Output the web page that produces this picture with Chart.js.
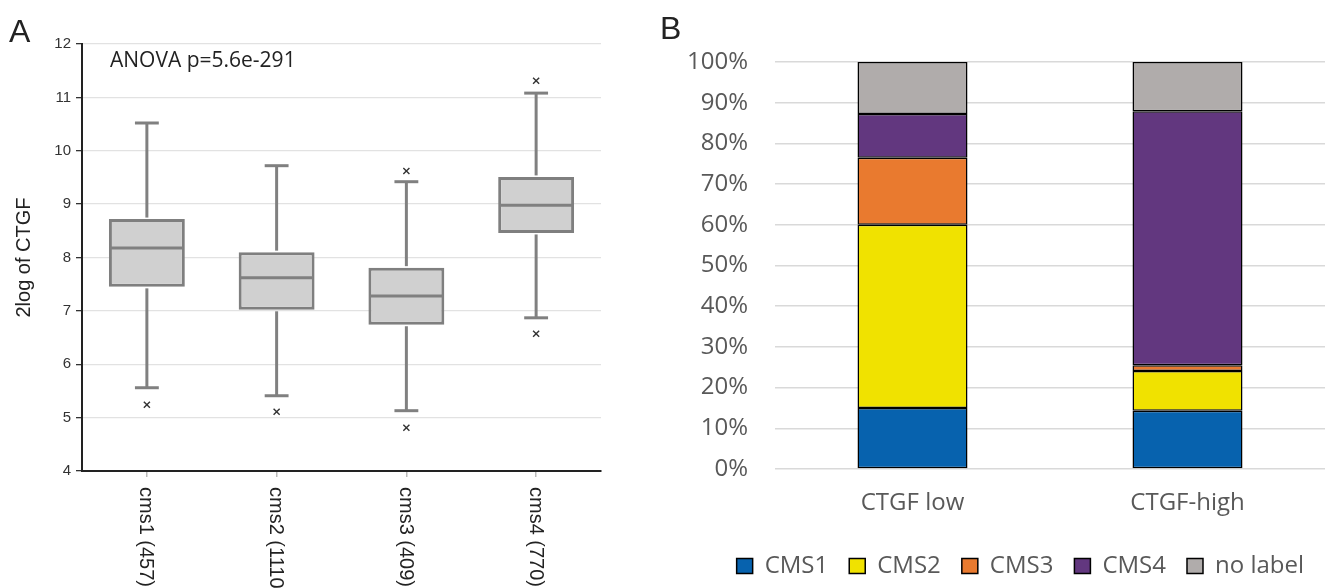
<!DOCTYPE html>
<html>
<head>
<meta charset="utf-8">
<script src="https://cdn.jsdelivr.net/npm/chart.js@4"></script>
<style>
  html, body { margin:0; padding:0; background:#fff; width:1326px; height:588px; overflow:hidden; }
  #wa { position:absolute; left:0; top:0; width:640px; height:588px; }
  #wb { position:absolute; left:640px; top:0; width:686px; height:588px; }
</style>
</head>
<body>
<div id="wa"><canvas id="ca"></canvas></div>
<div id="wb"><canvas id="cb"></canvas></div>
<script>
// ---------- Panel A data (box plot) ----------
const catsA   = ['cms1 (457)', 'cms2 (1110)', 'cms3 (409)', 'cms4 (770)'];
const whiskLo = [5.56, 5.41, 5.13, 6.87];
const q1      = [7.45, 7.02, 6.74, 8.46];
const median  = [8.18, 7.62, 7.28, 8.98];
const q3      = [8.72, 8.10, 7.81, 9.51];
const whiskHi = [10.52, 9.72, 9.42, 11.08];
const outliers = [
  {x: 'cms1 (457)', y: 5.24},
  {x: 'cms2 (1110)', y: 5.11},
  {x: 'cms3 (409)', y: 9.62},
  {x: 'cms3 (409)', y: 4.81},
  {x: 'cms4 (770)', y: 11.31},
  {x: 'cms4 (770)', y: 6.57}
];
const yTitleA = '2log of CTGF';
const anovaText = 'ANOVA p=5.6e-291';

// ---------- Panel B data (stacked %) ----------
const catsB   = ['CTGF low', 'CTGF-high'];
const cms1    = [15.0, 14.3];
const cms2    = [45.0, 9.8];
const cms3    = [16.5, 1.4];
const cms4    = [10.7, 62.4];
const noLabel = [12.8, 12.1];
const seriesNamesB = ['CMS1', 'CMS2', 'CMS3', 'CMS4', 'no label'];

// ---------- Panel A ----------
const boxExtras = {
  id: 'boxExtras',
  afterDatasetsDraw(chart) {
    const {ctx, scales: {x, y}} = chart;
    const pitch = x.getPixelForValue(1) - x.getPixelForValue(0);
    const meta = chart.getDatasetMeta(0);
    const cap = pitch * 0.092;
    ctx.save();
    ctx.strokeStyle = '#808080';
    ctx.lineWidth = 3;
    ctx.lineCap = 'butt';
    const seg = (x1, y1, x2, y2) => { ctx.beginPath(); ctx.moveTo(x1, y1); ctx.lineTo(x2, y2); ctx.stroke(); };
    catsA.forEach((c, i) => {
      const cx = x.getPixelForValue(i);
      const half = meta.data[i].width / 2;
      const yHi = y.getPixelForValue(whiskHi[i]);
      const yLo = y.getPixelForValue(whiskLo[i]);
      seg(cx, y.getPixelForValue(q3[i]) - 1.5, cx, yHi);
      seg(cx, y.getPixelForValue(q1[i]) + 1.5, cx, yLo);
      seg(cx - cap, yHi, cx + cap, yHi);
      seg(cx - cap, yLo, cx + cap, yLo);
      const ym = y.getPixelForValue(median[i]);
      seg(cx - half + 1.5, ym, cx + half - 1.5, ym);
    });
    ctx.restore();
  },
  afterDraw(chart) {
    const {ctx, scales: {x}} = chart;
    ctx.save();
    ctx.fillStyle = '#222';
    ctx.font = '20px "Liberation Sans", Arial, sans-serif';
    ctx.textAlign = 'left';
    ctx.textBaseline = 'middle';
    catsA.forEach((c, i) => {
      const cx = x.getPixelForValue(i);
      ctx.save();
      ctx.translate(cx - 1, 487);
      ctx.rotate(Math.PI / 2);
      ctx.fillText(c, 0, 0);
      ctx.restore();
    });
    ctx.textBaseline = 'alphabetic';
    ctx.font = '32px "Liberation Sans", Arial, sans-serif';
    ctx.fillText('A', 9, 42);
    ctx.font = '21px "Open Sans", sans-serif';
    ctx.fillText(anovaText, 110, 67);
    ctx.restore();
  }
};

new Chart(document.getElementById('ca'), {
  type: 'bar',
  data: {
    labels: catsA,
    datasets: [
      {
        label: 'box',
        data: q1.map((v, i) => [v, q3[i]]),
        backgroundColor: '#d0d0d0',
        borderColor: '#7f7f7f',
        borderWidth: 3,
        borderSkipped: false,
        barPercentage: 0.585,
        categoryPercentage: 1,
        grouped: false,
        order: 2
      },
      {
        type: 'line',
        label: 'outliers',
        data: outliers,
        showLine: false,
        pointStyle: 'crossRot',
        pointRadius: 4.3,
        borderColor: '#333',
        backgroundColor: '#333',
        borderWidth: 1.4,
        order: 1
      }
    ]
  },
  options: {
    responsive: true,
    maintainAspectRatio: false,
    animation: false,
    layout: { padding: { top: 44, right: 39, left: 0, bottom: 0 } },
    plugins: { legend: { display: false }, tooltip: { enabled: false } },
    scales: {
      x: {
        type: 'category',
        offset: true,
        grid: { display: true, drawOnChartArea: false, drawTicks: true, tickLength: 6, offset: false, tickColor: '#bbb', lineWidth: 1.5 },
        ticks: { display: false },
        border: { color: '#222', width: 2 },
        afterFit(s) { s.height = 117; }
      },
      y: {
        min: 4, max: 12,
        ticks: { stepSize: 1, font: { size: 15, family: '"Liberation Sans", Arial, sans-serif' }, color: '#333', padding: 5 },
        grid: { color: '#e2e2e2', lineWidth: 1.3, tickColor: '#333', tickLength: 6 },
        border: { color: '#222', width: 2 },
        title: { display: true, text: yTitleA, color: '#222', font: { size: 20, family: '"Liberation Sans", Arial, sans-serif' }, padding: { top: 12, bottom: 0 } },
        afterFit(s) { s.width = 82; }
      }
    }
  },
  plugins: [boxExtras]
});

// ---------- Panel B ----------
const letterB = {
  id: 'letterB',
  afterDraw(chart) {
    const {ctx} = chart;
    ctx.save();
    ctx.fillStyle = '#222';
    ctx.font = '32px "Liberation Sans", Arial, sans-serif';
    ctx.textAlign = 'left';
    ctx.textBaseline = 'alphabetic';
    ctx.fillText('B', 20, 39);
    ctx.restore();
  }
};

const colorsB = ['#0762ae', '#f0e200', '#e97a2f', '#62377f', '#b0acab'];
const seriesB = [cms1, cms2, cms3, cms4, noLabel];
const fontB = '"Open Sans", sans-serif';

new Chart(document.getElementById('cb'), {
  type: 'bar',
  data: {
    labels: catsB,
    datasets: seriesB.map((d, i) => ({
      label: seriesNamesB[i],
      data: d,
      backgroundColor: colorsB[i],
      borderColor: '#000',
      borderWidth: 1.5,
      borderSkipped: false,
      barPercentage: 0.4,
      categoryPercentage: 1
    }))
  },
  options: {
    responsive: true,
    maintainAspectRatio: false,
    animation: false,
    layout: { padding: { top: 62, right: 1, left: 0, bottom: 0 } },
    plugins: {
      tooltip: { enabled: false },
      legend: {
        position: 'bottom',
        align: 'end',
        labels: { boxWidth: 16, boxHeight: 15, padding: 21, color: '#595959', font: { size: 24, family: fontB } }
      }
    },
    scales: {
      x: {
        stacked: true,
        grid: { display: false, drawTicks: false },
        border: { display: false },
        ticks: { color: '#595959', font: { size: 24, family: fontB }, padding: 20 },
        afterFit(s) { s.height = 64; }
      },
      y: {
        stacked: true,
        min: 0, max: 100,
        ticks: { stepSize: 10, color: '#595959', font: { size: 24, family: fontB }, padding: 27, callback: v => v + '%' },
        grid: { color: '#d9d9d9', lineWidth: 1.5, drawTicks: false },
        border: { display: false },
        afterFit(s) { s.width = 135; }
      }
    }
  },
  plugins: [letterB]
});
</script>
</body>
</html>
